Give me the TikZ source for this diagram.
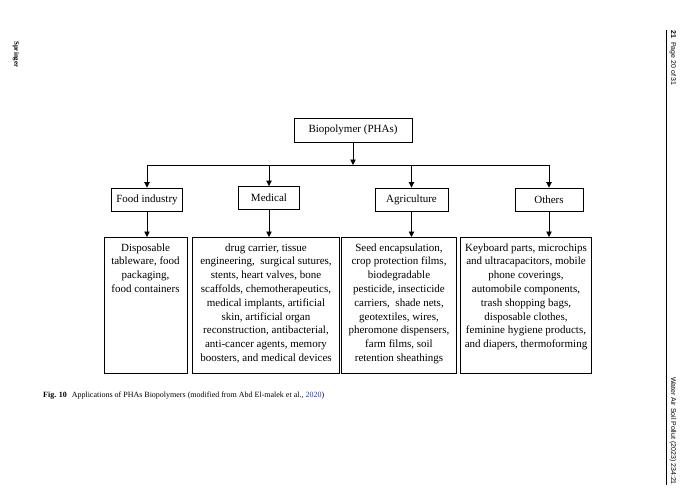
\documentclass[tikz,border=0pt]{standalone}
\usepackage{fontspec}
\setmainfont{Liberation Serif}
\newfontfamily\pagefont{Liberation Sans}
\usepackage{xcolor}
\definecolor{linkblue}{RGB}{25,60,200}
\usetikzlibrary{arrows.meta,positioning}
\tikzset{
  pha top/.style={draw, line width=0.9pt, minimum width=118pt, minimum height=24pt, inner sep=0pt, font=\fontsize{11}{13.5}\selectfont},
  pha cat/.style={draw, line width=0.9pt, minimum height=23pt, inner sep=0pt, font=\fontsize{11}{13.5}\selectfont},
  pha list/.style={draw, line width=0.9pt, anchor=north, inner xsep=0pt, inner ysep=6pt, font=\fontsize{11}{13.8}\selectfont},
  pha edge/.style={-{Triangle[length=5.5pt, width=5.5pt]}, line width=0.9pt},
  pha bus/.style={line width=0.9pt},
  page text/.style={font=\pagefont\fontsize{7}{8}\selectfont, rotate=-90, inner sep=0pt},
}
\newcommand{\phaitems}[2]{\parbox[t][124pt][t]{#1}{\centering #2}}

\begin{document}
\begin{tikzpicture}[x=1pt, y=-1pt]
  \useasboundingbox (0,0) rectangle (689,493);
  % page furniture
  \node[page text, anchor=west, font=\rmfamily\bfseries\fontsize{7}{8}\selectfont] (publisher) at (16,41) {Springer};
  \draw[line width=0.6pt] (666,30) -- (666,485);
  \node[page text, anchor=west] (pageno) at (673,30) {\textbf{21}\hspace{0.6em}Page 20 of 31};
  \node[page text, anchor=east] (journal) at (673,485) {Water Air Soil Pollut (2023) 234:21};

  % tree
  \node[pha top] (pha) at (353,130) {Biopolymer (PHAs)};
  \coordinate (bus) at (353,165);
  \node[pha cat, minimum width=71pt] (food) at (147,199.5) {Food industry};
  \node[pha cat, minimum width=61pt] (medical) at (269,198) {Medical};
  \node[pha cat, minimum width=73pt] (agri) at (411.5,199.5) {Agriculture};
  \node[pha cat, minimum width=68pt] (others) at (549,199.5) {Others};

  \node[pha list] (foodlist) at (145.5,237) {\phaitems{83pt}{Disposable\\tableware, food\\packaging,\\food containers}};
  \node[pha list] (medicallist) at (266,237) {\phaitems{147pt}{drug carrier, tissue\\engineering,\ \ surgical sutures,\\stents, heart valves, bone\\scaffolds, chemotherapeutics,\\medical implants, artificial\\skin, artificial organ\\reconstruction, antibacterial,\\anti-cancer agents, memory\\boosters, and medical devices}};
  \node[pha list] (agrilist) at (399,237) {\phaitems{115pt}{Seed encapsulation,\\crop protection films,\\biodegradable\\pesticide, insecticide\\carriers,\ \ shade nets,\\geotextiles, wires,\\pheromone dispensers,\\farm films, soil\\retention sheathings}};
  \node[pha list] (otherslist) at (526,237) {\phaitems{131pt}{Keyboard parts, microchips\\and ultracapacitors, mobile\\phone coverings,\\automobile components,\\trash shopping bags,\\disposable clothes,\\feminine hygiene products,\\and diapers, thermoforming}};

  \draw[pha edge] (pha.south) -- (bus);
  \draw[pha bus] (bus -| food.north) -- (bus -| others.north);
  \foreach \cat in {food,medical,agri,others}
    \draw[pha edge] (bus -| \cat.north) -- (\cat.north);
  \foreach \cat/\list in {food/foodlist,medical/medicallist,agri/agrilist,others/otherslist}
    \draw[pha edge] (\cat.south) -- (\cat.south |- \list.north);

  \node[anchor=base west, inner sep=0pt, font=\fontsize{8}{10}\selectfont] (caption) at (43,397) {\textbf{Fig. 10}\hspace{0.6em}Applications of PHAs Biopolymers (modified from Abd El-malek et al., \textcolor{linkblue}{2020})};
\end{tikzpicture}
\end{document}
